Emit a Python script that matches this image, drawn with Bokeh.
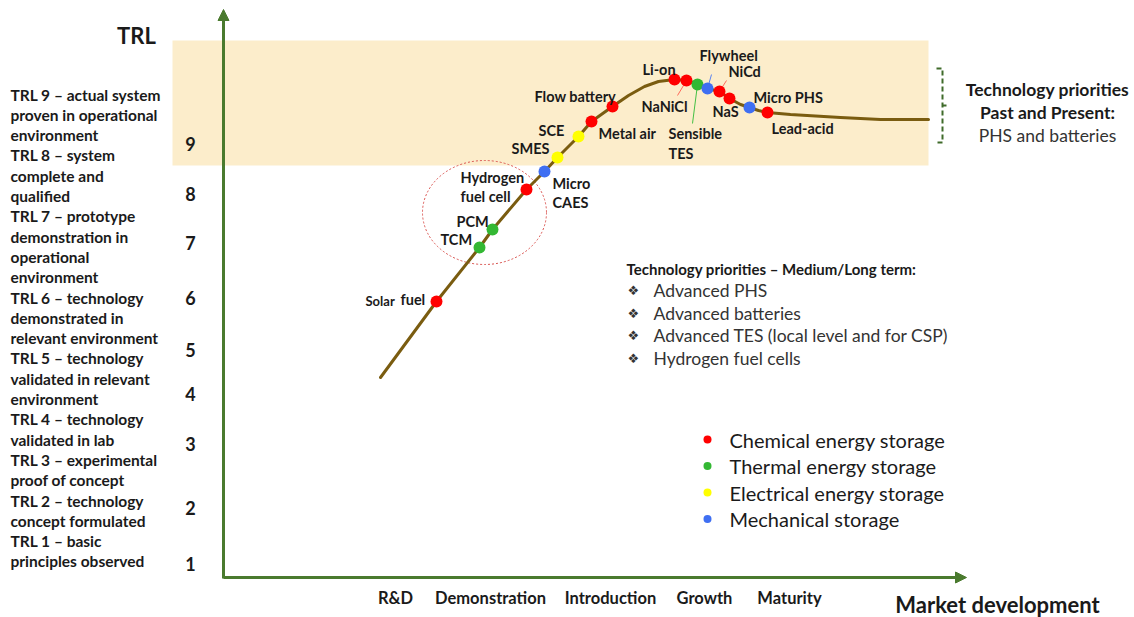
from bokeh.plotting import figure
from bokeh.models import Range1d, Arrow, NormalHead, ColumnDataSource
from bokeh.core.properties import value
from bokeh.embed import file_html
from bokeh.resources import INLINE

# ---------------- data (diagram coordinates) ----------------
tech_names = ["Solar fuel", "TCM", "PCM", "Hydrogen fuel cell", "Micro CAES", "SMES", "SCE",
              "Metal air", "Flow battery", "Li-on", "NaNiCl", "Sensible TES", "Flywheel",
              "NiCd", "NaS", "Micro PHS", "Lead-acid"]
tech_x = [436, 479, 492, 526, 544, 557, 578, 591, 612, 674, 686, 697, 707, 719, 729, 749, 767]
tech_y = [301, 247, 229, 189, 171, 157, 136, 121, 106, 79, 80, 84, 88, 91, 98, 107, 112]
tech_cat = ["Chemical", "Thermal", "Thermal", "Chemical", "Mechanical", "Electrical", "Electrical",
            "Chemical", "Chemical", "Chemical", "Chemical", "Thermal", "Mechanical",
            "Chemical", "Chemical", "Mechanical", "Chemical"]

curve_x = [380, 436, 479, 492, 526, 544, 557, 578, 591, 612, 628, 644, 658, 674, 686, 697, 707,
           719, 729, 740, 749, 758, 767, 790, 840, 880, 928]
curve_y = [377, 301, 247, 229, 189, 171, 157, 136, 121, 106, 95, 86, 81, 79, 80, 84, 88,
           91, 98, 104, 107, 110, 112, 114, 117, 119, 119]

categories = ["Chemical", "Thermal", "Electrical", "Mechanical"]
legend_labels = ["Chemical energy storage", "Thermal energy storage",
                 "Electrical energy storage", "Mechanical storage"]

trl_levels = ["9", "8", "7", "6", "5", "4", "3", "2", "1"]
trl_level_y = [143, 193, 242, 297, 349, 393, 443, 507, 563]

trl_desc = ["TRL 9 \u2013 actual system", "proven in operational", "environment",
            "TRL 8 \u2013 system", "complete and", "qualified",
            "TRL 7 \u2013 prototype", "demonstration in", "operational", "environment",
            "TRL 6 \u2013 technology", "demonstrated in", "relevant environment",
            "TRL 5 \u2013 technology", "validated in relevant", "environment",
            "TRL 4 \u2013 technology", "validated in lab",
            "TRL 3 \u2013 experimental", "proof of concept",
            "TRL 2 \u2013 technology", "concept formulated",
            "TRL 1 \u2013 basic", "principles observed"]

market_stages = ["R&D", "Demonstration", "Introduction", "Growth", "Maturity"]
market_stage_x = [395, 490, 610, 704, 789]

medium_term = ["Advanced PHS", "Advanced batteries", "Advanced TES (local level and for CSP)",
               "Hydrogen fuel cells"]

# ---------------- layout / style ----------------
cat_colors = {"Chemical": "#ff0000", "Thermal": "#33b833", "Electrical": "#ffff00",
              "Mechanical": "#3f6ff2"}
FONT = value("Lato")
DARK = "#1a1a1a"
AXIS_GREEN = "#4a7a2e"

p = figure(width=1134, height=617, output_backend="svg", toolbar_location=None,
           x_range=Range1d(0, 1134), y_range=Range1d(617, 0),
           x_axis_location=None, y_axis_location=None, min_border=0)
p.grid.visible = False
p.outline_line_color = None
p.background_fill_color = "white"

# highlight band
p.quad(left=[172], right=[928], top=[40], bottom=[165], fill_color="#fcedcb",
       line_color=None)

# axes arrows
p.add_layout(Arrow(x_start=223, y_start=578, x_end=223, y_end=9, line_color=AXIS_GREEN,
                   line_width=3, end=NormalHead(size=11, fill_color=AXIS_GREEN,
                                                line_color=AXIS_GREEN)))
p.add_layout(Arrow(x_start=223, y_start=577, x_end=966, y_end=577, line_color=AXIS_GREEN,
                   line_width=3, end=NormalHead(size=11, fill_color=AXIS_GREEN,
                                                line_color=AXIS_GREEN)))

# dashed red ellipse
p.ellipse(x=[484], y=[212], width=[124], height=[104], fill_color=None,
          line_color="#d9534f", line_dash="2 2", line_width=1)

# curve
p.line(curve_x, curve_y, line_color="#7a5c10", line_width=3, line_join="round",
       line_cap="round")

# leader lines
idx = {n: i for i, n in enumerate(tech_names)}
leaders = [("NaNiCl", 677, 95, "#ff6a5a"), ("Sensible TES", 692, 123, "#44c044"),
           ("Flywheel", 711, 74, "#5b83f0"), ("NiCd", 726, 80, "#ff6a5a")]
for name, ex, ey, col in leaders:
    i = idx[name]
    p.segment(x0=[tech_x[i]], y0=[tech_y[i]], x1=[ex], y1=[ey], line_color=col, line_width=1)

# technology dots
src = ColumnDataSource(dict(x=tech_x, y=tech_y, c=[cat_colors[c] for c in tech_cat]))
p.scatter("x", "y", source=src, size=12, fill_color="c", line_color=None)

# technology labels: (text, x, y)
label_layout = [
    ("TCM", 440, 239), ("PCM", 456, 221),
    ("Hydrogen", 460, 177), ("fuel cell", 460, 196),
    ("Micro", 552, 183), ("CAES", 552, 202),
    ("SMES", 511, 148), ("SCE", 538, 130),
    ("Metal air", 598, 133), ("Flow battery", 534, 96),
    ("Li-on", 642, 69), ("NaNiCl", 641, 106),
    ("Sensible", 668, 133), ("TES", 668, 153),
    ("Flywheel", 699, 55), ("NiCd", 728, 71),
    ("NaS", 712, 111), ("Micro PHS", 753, 97),
    ("Lead-acid", 771, 128), ("fuel", 400, 299),
]
p.text(x=[l[1] for l in label_layout], y=[l[2] for l in label_layout],
       text=[l[0] for l in label_layout], text_align="left", text_baseline="middle",
       text_font=FONT, text_font_style="bold", text_font_size="14.5px", text_color=DARK)
p.text(x=[365], y=[300], text=["Solar"], text_align="left", text_baseline="middle",
       text_font=FONT, text_font_style="bold", text_font_size="13px", text_color=DARK)

# TRL title and levels
p.text(x=[136], y=[35], text=["TRL"], text_align="center", text_baseline="middle",
       text_font=FONT, text_font_style="bold", text_font_size="22px", text_color=DARK)
p.text(x=[190] * len(trl_levels), y=trl_level_y, text=trl_levels, text_align="center",
       text_baseline="middle", text_font=FONT, text_font_style="bold",
       text_font_size="18px", text_color=DARK)
p.text(x=[10] * len(trl_desc), y=[94 + i * 20.3 for i in range(len(trl_desc))], text=trl_desc,
       text_align="left", text_baseline="middle", text_font=FONT, text_font_style="bold",
       text_font_size="15.5px", text_color=DARK)

# market stages
p.text(x=market_stage_x, y=[597] * len(market_stages), text=market_stages,
       text_align="center", text_baseline="middle", text_font=FONT, text_font_style="bold",
       text_font_size="16.5px", text_color=DARK)
p.text(x=[997], y=[604], text=["Market development"], text_align="center",
       text_baseline="middle", text_font=FONT, text_font_style="bold",
       text_font_size="22px", text_color=DARK)

# past/present bracket
p.multi_line(xs=[[936, 942, 942, 936], [942, 946]], ys=[[68, 68, 142, 142], [105, 105]],
             line_color="#3f6b2a", line_width=2, line_dash="5 3")
p.text(x=[1047, 1047], y=[89, 112], text=["Technology priorities", "Past and Present:"],
       text_align="center", text_baseline="middle", text_font=FONT, text_font_style="bold",
       text_font_size="17.5px", text_color=DARK)
p.text(x=[1047], y=[135], text=["PHS and batteries"], text_align="center",
       text_baseline="middle", text_font=FONT, text_font_size="17.5px", text_color="#333333")

# medium / long term
p.text(x=[626], y=[268], text=["Technology priorities \u2013 Medium/Long term:"],
       text_align="left", text_baseline="middle", text_font=FONT, text_font_style="bold",
       text_font_size="15px", text_color=DARK)
mt_y = [290 + i * 22.7 for i in range(len(medium_term))]
p.text(x=[627] * len(medium_term), y=mt_y, text=["\u2756"] * len(medium_term),
       text_align="left", text_baseline="middle", text_font=value("DejaVu Sans"),
       text_font_size="13px", text_color="#333333")
p.text(x=[653] * len(medium_term), y=mt_y, text=medium_term, text_align="left",
       text_baseline="middle", text_font=FONT, text_font_size="17.5px", text_color="#333333")

# legend
leg_y = [439 + i * 26.5 for i in range(len(categories))]
p.scatter(x=[707] * len(categories), y=leg_y, size=8,
          fill_color=[cat_colors[c] for c in categories], line_color=None)
p.text(x=[729] * len(categories), y=leg_y, text=legend_labels, text_align="left",
       text_baseline="middle", text_font=FONT, text_font_size="20px", text_color=DARK)

open("out.html", "w").write(file_html(p, INLINE))
